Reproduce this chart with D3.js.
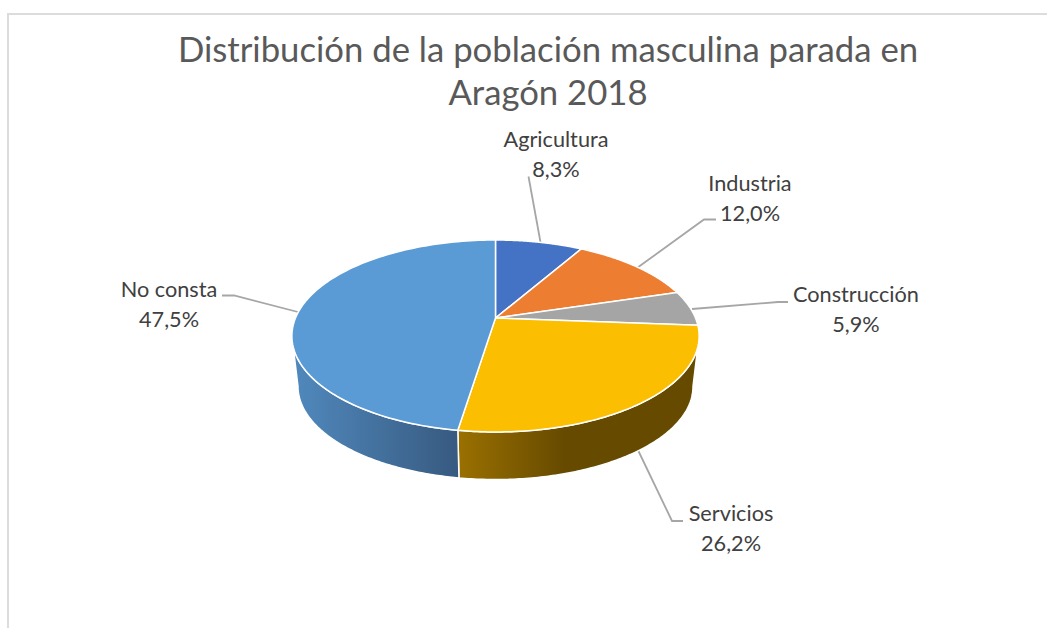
<!DOCTYPE html>
<html>
<head>
<meta charset="utf-8">
<script src="https://cdn.jsdelivr.net/npm/d3@7"></script>
<style>
html,body{margin:0;padding:0;background:#fff;overflow:hidden}
svg{display:block}
text{font-family:Lato,"Open Sans",sans-serif}
</style>
</head>
<body>
<svg id="chart" width="1047" height="628"></svg>
<script>
const titleLines = ["Distribución de la población masculina parada en", "Aragón 2018"];
const categories = ["Agricultura", "Industria", "Construcción", "Servicios", "No consta"];
const values = [8.3, 12.0, 5.9, 26.2, 47.5];
const valueLabels = ["8,3%", "12,0%", "5,9%", "26,2%", "47,5%"];
const colors = ["#4472C4", "#ED7D31", "#A5A5A5", "#FBBE00", "#5B9BD5"];

const svg = d3.select("#chart");

// Chart frame (cropped at the right and bottom of the picture)
svg.append("path")
  .attr("d", "M8,628V14H1047")
  .attr("fill", "none").attr("stroke", "#dcdcdc").attr("stroke-width", 2);

// Title
svg.append("g").selectAll("text").data(titleLines).join("text")
  .attr("x", 548).attr("y", (d, i) => 61.5 + i * 43.5)
  .attr("text-anchor", "middle").attr("font-size", 34.7).attr("fill", "#595959")
  .text(d => d);

// Perspective projection of the pie disc
const cx = 495.5, y0 = 318, R = 200, A = 92.6, K = 0.1875;
const depthScale = 0.97, depthY = 369;
function project(theta, bottom) {
  const u = Math.sin(theta), v = -Math.cos(theta), s = 1 / (1 - K * v);
  const f = bottom ? depthScale : 1, y = bottom ? depthY : y0;
  return [cx + R * f * u * s, y + A * f * v * s];
}
function arcPoints(a0, a1, bottom) {
  return d3.range(0, 121).map(i => project(a0 + (a1 - a0) * i / 120, bottom));
}
const line = d3.line();
const pie = d3.pie().sort(null).value(d => d)(values);

// Gradients for the side walls
const defs = svg.append("defs");
function gradient(id, x1, x2, c1, c2) {
  const g = defs.append("linearGradient").attr("id", id)
    .attr("gradientUnits", "userSpaceOnUse")
    .attr("x1", x1).attr("x2", x2).attr("y1", 0).attr("y2", 0);
  g.append("stop").attr("offset", 0).attr("stop-color", c1);
  g.append("stop").attr("offset", 1).attr("stop-color", c2);
}
gradient("wallBlue", 296, 458, "#5088BC", "#375A80");
gradient("wallYellow", 458, 565, "#9A7000", "#664A00");

// Side walls (only the front part of the disc shows)
const rightLimit = Math.acos(-K), leftLimit = 2 * Math.PI - rightLimit;
const walls = [[3, "url(#wallYellow)"], [4, "url(#wallBlue)"]];

// Leader lines sit behind the pie
const leaders = [
  [[528.5, 176.5], [541, 245]],
  [[716, 219.5], [704, 219.5], [637, 268]],
  [[788, 302], [778, 302], [692, 309]],
  [[683, 521], [672, 521], [637, 448]],
  [[222, 295.5], [234, 295.5], [298, 312]]
];
svg.append("g").selectAll("path").data(leaders).join("path")
  .attr("d", d => line(d))
  .attr("fill", "none").attr("stroke", "#a6a6a6").attr("stroke-width", 1.8);

svg.append("g").selectAll("path").data(walls).join("path")
  .attr("d", ([i]) => {
    const a0 = Math.max(pie[i].startAngle, rightLimit);
    const a1 = Math.min(pie[i].endAngle, leftLimit);
    return line(arcPoints(a0, a1, false).concat(arcPoints(a1, a0, true))) + "Z";
  })
  .attr("fill", d => d[1])
  .attr("stroke", "#fff").attr("stroke-width", 1.5).attr("stroke-linejoin", "round");

// Top slices
svg.append("g").selectAll("path").data(pie).join("path")
  .attr("d", d => line([[cx, y0]].concat(arcPoints(d.startAngle, d.endAngle, false))) + "Z")
  .attr("fill", (d, i) => colors[i])
  .attr("stroke", "#fff").attr("stroke-width", 1.5).attr("stroke-linejoin", "round");

// Labels
const labelX = [556, 750, 856, 731, 169];
const labelY = [147, 191, 302, 521, 297];
const labels = svg.append("g").selectAll("g").data(categories).join("g");
labels.append("text")
  .attr("x", (d, i) => labelX[i]).attr("y", (d, i) => labelY[i])
  .attr("text-anchor", "middle").attr("font-size", 21.7).attr("fill", "#404040")
  .text(d => d);
labels.append("text")
  .attr("x", (d, i) => labelX[i]).attr("y", (d, i) => labelY[i] + 29.5)
  .attr("text-anchor", "middle").attr("font-size", 21.7).attr("fill", "#404040")
  .text((d, i) => valueLabels[i]);
</script>
</body>
</html>
